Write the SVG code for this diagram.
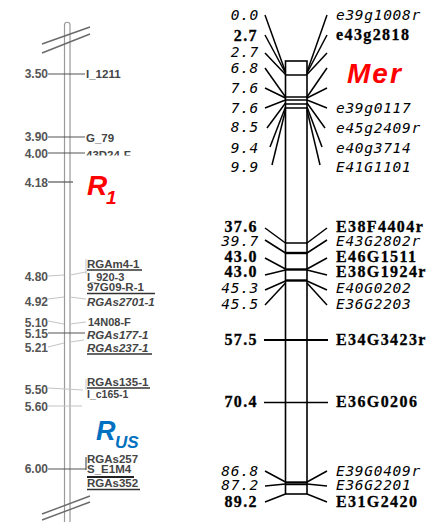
<svg xmlns="http://www.w3.org/2000/svg" width="439" height="524" viewBox="0 0 439 524">
<style>
.rod{fill:none;stroke:#9a9a9a;stroke-width:1.2}
.brk{stroke:#6a6a6a;stroke-width:1.4;fill:none}
.dk{stroke:#555;stroke-width:1.2;fill:none}
.lt{stroke:#c4c4c4;stroke-width:1;fill:none}
.ul{stroke:#333;stroke-width:1.3}
.ln{font-family:"Liberation Sans",Arial,sans-serif;font-weight:bold;font-size:12px;fill:#555}
.ll{font-family:"Liberation Sans",Arial,sans-serif;font-weight:bold;font-size:11.5px;fill:#444}
.lli{font-family:"Liberation Sans",Arial,sans-serif;font-weight:bold;font-style:italic;font-size:11.5px;fill:#444}
.bar{fill:#fff;stroke:#000;stroke-width:1.6}
.c{stroke:#000;stroke-width:1.5;fill:none}
.ct{stroke:#000;stroke-width:2.4;fill:none}
.ri{font-family:"DejaVu Sans Mono",monospace;font-style:oblique;font-size:14.5px;letter-spacing:0.7px;fill:#000}
.rb{font-family:"Liberation Serif","Times New Roman",serif;font-weight:bold;font-size:16px;letter-spacing:1.4px;fill:#000;stroke:#000;stroke-width:0.3}
.red{font-family:"Liberation Sans",Arial,sans-serif;font-weight:bold;font-style:italic;fill:#ff0000}
.blue{font-family:"Liberation Sans",Arial,sans-serif;font-weight:bold;font-style:italic;fill:#0070c0}
</style>
<defs>
<clipPath id="clipTop"><rect x="80" y="140" width="80" height="15.5"/></clipPath>
<clipPath id="clipBot"><rect x="80" y="455" width="80" height="10"/></clipPath>
</defs>
<rect width="439" height="524" fill="#fff"/>

<!-- Left map: R1 / RUS -->
<g id="left-chromosome">
<path class="rod" d="M64.5,522 V25 A2.75,2.75 0 0 1 70,25 V522"/>
<line class="brk" x1="42" y1="44" x2="90" y2="27"/>
<line class="brk" x1="42" y1="53" x2="90" y2="34"/>
<line class="brk" x1="42" y1="514" x2="90" y2="496"/>
<line class="brk" x1="42" y1="520" x2="90" y2="502"/>
</g>

<g id="left-connectors">
<line class="dk" x1="48" y1="74" x2="85" y2="74"/>
<line class="dk" x1="48" y1="137" x2="85" y2="137"/>
<line class="dk" x1="48" y1="153" x2="85" y2="153"/>
<line class="dk" x1="48" y1="182" x2="73" y2="182"/>
<polyline class="lt" points="48,276 64,275"/>
<polyline class="lt" points="70,275 86,272"/>
<line class="lt" x1="86" y1="259" x2="86" y2="274"/>
<polyline class="lt" points="48,299 64,297"/>
<polyline class="lt" points="70,297 86,299"/>
<polyline class="lt" points="48,321 64,324"/>
<polyline class="lt" points="70,324 86,322"/>
<line class="dk" x1="48" y1="333" x2="85" y2="333"/>
<polyline class="lt" points="48,347 64,343"/>
<polyline class="lt" points="70,342 84,340"/>
<line class="lt" x1="48" y1="388" x2="83" y2="390"/>
<line class="lt" x1="86" y1="379" x2="86" y2="390"/>
<line class="lt" x1="48" y1="406" x2="82" y2="406"/>
<line class="dk" x1="48" y1="469" x2="86" y2="469"/>
<line class="dk" x1="86" y1="457" x2="86" y2="470"/>
</g>

<g id="left-labels">
<g text-anchor="end" class="ln">
<text x="48" y="78">3.50</text>
<text x="48" y="141">3.90</text>
<text x="48" y="158">4.00</text>
<text x="48" y="187">4.18</text>
<text x="48" y="281">4.80</text>
<text x="48" y="306">4.92</text>
<text x="48" y="327">5.10</text>
<text x="48" y="338">5.15</text>
<text x="48" y="352">5.21</text>
<text x="48" y="394">5.50</text>
<text x="48" y="411">5.60</text>
<text x="48" y="473">6.00</text>
</g>
<text class="ll" x="86" y="78">I_1211</text>
<text class="ll" x="86" y="142">G_79</text>
<text class="ll" x="86" y="159" clip-path="url(#clipTop)">43D24-F</text>
<text class="ll" x="87" y="268">RGAm4-1</text>
<line class="ul" x1="87" y1="270" x2="142" y2="270"/>
<text class="ll" x="87" y="280.5" style="font-size:11px">I_920-3</text>
<text class="ll" x="87" y="291">97G09-R-1</text>
<line class="ul" x1="87" y1="293.5" x2="155" y2="293.5"/>
<text class="lli" x="87" y="306">RGAs2701-1</text>
<text class="ll" x="88" y="326" style="font-size:11px">14N08-F</text>
<text class="lli" x="87" y="339">RGAs177-1</text>
<text class="lli" x="87" y="352">RGAs237-1</text>
<line class="ul" x1="87" y1="354" x2="152" y2="354"/>
<text class="ll" x="87" y="386">RGAs135-1</text>
<line class="ul" x1="87" y1="388" x2="150" y2="388"/>
<text class="ll" x="87" y="398" style="font-size:10.5px">I_c165-1</text>
<text class="ll" x="87" y="463" clip-path="url(#clipBot)">RGAs257</text>
<text class="ll" x="87" y="473">S_E1M4</text>
<line x1="87" y1="477" x2="134" y2="477" stroke="#222" stroke-width="2"/>
<text class="ll" x="87" y="487">RGAs352</text>
<line class="ul" x1="87" y1="489.5" x2="140" y2="489.5"/>
</g>

<g id="R1">
<text class="red" x="87" y="195" font-size="28">R</text>
<text class="red" x="106" y="204" font-size="19">1</text>
</g>
<g id="RUS">
<text class="blue" x="96" y="440" font-size="27">R</text>
<text class="blue" x="115" y="448" font-size="17">US</text>
</g>

<!-- Right map: Mer -->
<g id="right-chromosome">
<rect class="bar" x="285.5" y="61" width="21.5" height="433"/>
<g class="c">
<line x1="285.5" y1="75" x2="307" y2="75"/>
<line x1="285.5" y1="97" x2="307" y2="97"/>
<line x1="285.5" y1="100" x2="307" y2="100"/>
<line x1="285.5" y1="104" x2="307" y2="104"/>
<line x1="285.5" y1="108" x2="307" y2="108"/>
<line x1="285.5" y1="243" x2="307" y2="243"/>
</g>
<g class="ct">
<line x1="285.5" y1="253" x2="307" y2="253"/>
<line x1="285.5" y1="269.5" x2="307" y2="269.5"/>
<line x1="285.5" y1="280.5" x2="307" y2="280.5"/>
<line x1="285.5" y1="482.5" x2="307" y2="482.5"/>
</g>
<line class="c" x1="285.5" y1="484.5" x2="307" y2="484.5"/>
</g>

<g id="right-connectors" class="c">
<line x1="265" y1="15" x2="285.5" y2="72"/>
<line x1="265" y1="35" x2="285.5" y2="73"/>
<line x1="265" y1="53" x2="285.5" y2="74.5"/>
<line x1="265" y1="68" x2="285.5" y2="97"/>
<line x1="265" y1="88" x2="285.5" y2="98"/>
<line x1="265" y1="108" x2="285.5" y2="100"/>
<line x1="267" y1="128" x2="285.5" y2="103"/>
<line x1="270" y1="147" x2="285.5" y2="107"/>
<line x1="272" y1="165" x2="285.5" y2="110"/>
<line x1="327" y1="15" x2="307" y2="72"/>
<line x1="327" y1="35" x2="307" y2="73"/>
<line x1="327" y1="53" x2="307" y2="74.5"/>
<line x1="327" y1="68" x2="307" y2="97"/>
<line x1="327" y1="88" x2="307" y2="98"/>
<line x1="327" y1="108" x2="307" y2="100"/>
<line x1="325" y1="128" x2="307" y2="103"/>
<line x1="322" y1="147" x2="307" y2="107"/>
<line x1="320" y1="165" x2="307" y2="110"/>

<line x1="265" y1="228" x2="285.5" y2="243"/>
<line x1="265" y1="240" x2="285.5" y2="253"/>
<line x1="265" y1="258" x2="285.5" y2="269"/>
<line x1="265" y1="275" x2="285.5" y2="270"/>
<line x1="265" y1="290" x2="285.5" y2="281"/>
<line x1="265" y1="305" x2="285.5" y2="283"/>
<line x1="327" y1="228" x2="307" y2="243"/>
<line x1="327" y1="240" x2="307" y2="253"/>
<line x1="327" y1="258" x2="307" y2="269"/>
<line x1="327" y1="275" x2="307" y2="270"/>
<line x1="327" y1="290" x2="307" y2="281"/>
<line x1="327" y1="305" x2="307" y2="283"/>

<line x1="264" y1="340" x2="328" y2="340" stroke-width="2"/>
<line x1="264" y1="402.5" x2="328" y2="402.5"/>

<line x1="265" y1="471" x2="285.5" y2="482"/>
<line x1="265" y1="486" x2="285.5" y2="484"/>
<line x1="265" y1="502" x2="285.5" y2="494"/>
<line x1="327" y1="471" x2="307" y2="482"/>
<line x1="327" y1="486" x2="307" y2="484"/>
<line x1="327" y1="502" x2="307" y2="494"/>
</g>

<g id="right-numbers" text-anchor="end">
<text class="ri" x="259" y="20">0.0</text>
<text class="rb" x="258" y="41">2.7</text>
<text class="ri" x="259" y="57">2.7</text>
<text class="ri" x="259" y="73">6.8</text>
<text class="ri" x="259" y="93">7.6</text>
<text class="ri" x="259" y="113">7.6</text>
<text class="ri" x="259" y="132">8.5</text>
<text class="ri" x="259" y="153">9.4</text>
<text class="ri" x="259" y="172">9.9</text>
<text class="rb" x="258" y="232">37.6</text>
<text class="ri" x="259" y="246">39.7</text>
<text class="rb" x="258" y="262">43.0</text>
<text class="rb" x="258" y="277">43.0</text>
<text class="ri" x="259" y="293">45.3</text>
<text class="ri" x="259" y="309">45.5</text>
<text class="rb" x="258" y="345">57.5</text>
<text class="rb" x="258" y="407">70.4</text>
<text class="ri" x="259" y="476">86.8</text>
<text class="ri" x="259" y="490">87.2</text>
<text class="rb" x="258" y="507">89.2</text>
</g>

<g id="right-labels">
<text class="ri" x="336" y="20">e39g1008r</text>
<text class="rb" x="336" y="40">e43g2818</text>
<text class="ri" x="336" y="113">e39g0117</text>
<text class="ri" x="336" y="133">e45g2409r</text>
<text class="ri" x="336" y="153">e40g3714</text>
<text class="ri" x="336" y="172">E41G1101</text>
<text class="rb" x="336" y="232">E38F4404r</text>
<text class="ri" x="336" y="246">E43G2802r</text>
<text class="rb" x="336" y="262">E46G1511</text>
<text class="rb" x="336" y="277">E38G1924r</text>
<text class="ri" x="336" y="293">E40G0202</text>
<text class="ri" x="336" y="309">E36G2203</text>
<text class="rb" x="336" y="345">E34G3423r</text>
<text class="rb" x="336" y="407">E36G0206</text>
<text class="ri" x="336" y="476">E39G0409r</text>
<text class="ri" x="336" y="490">E36G2201</text>
<text class="rb" x="336" y="507">E31G2420</text>
</g>

<g id="Mer">
<text class="red" x="347" y="83" font-size="28" letter-spacing="2">Mer</text>
</g>
</svg>
